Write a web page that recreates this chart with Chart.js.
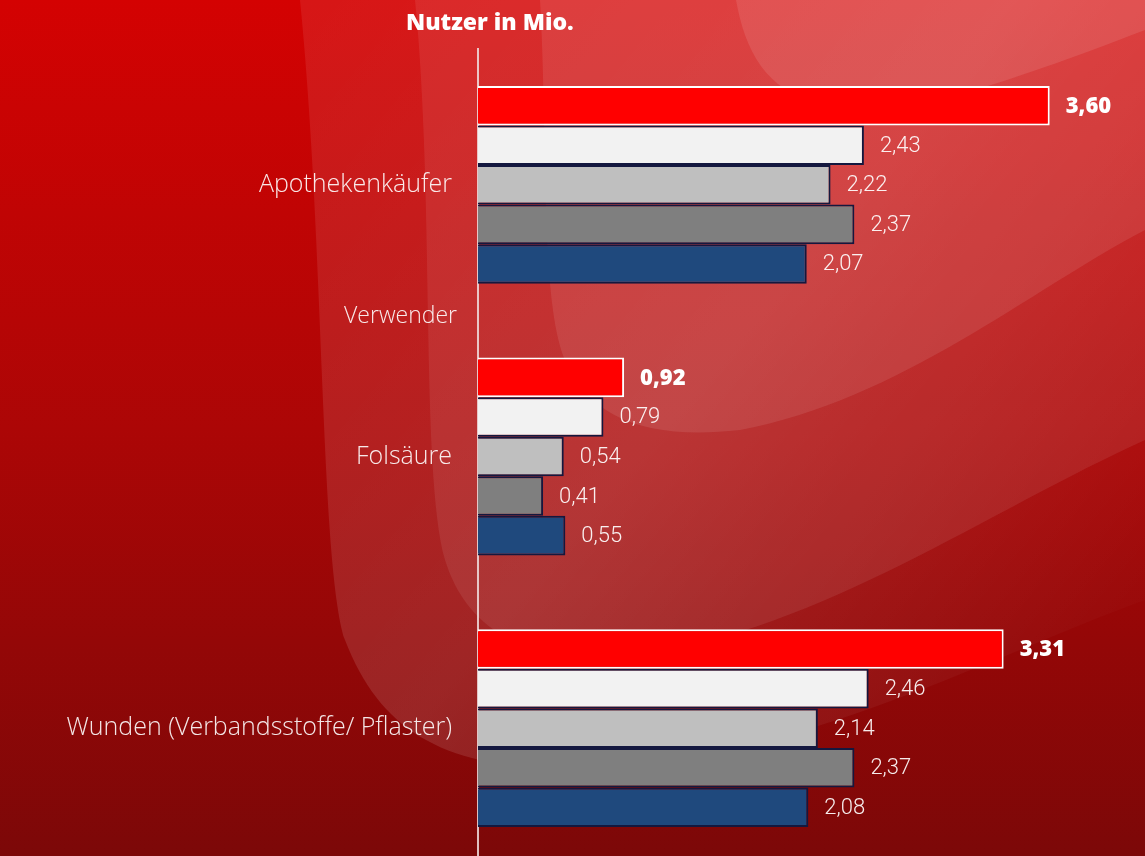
<!DOCTYPE html>
<html>
<head>
<style>
    html, body { margin:0; padding:0; overflow:hidden; width:1145px; height:856px; background:#a00606; }
    canvas { position:absolute; left:0; top:0; }
    .title { position:absolute; left:406px; top:5px; font-family:"Open Sans", sans-serif; font-weight:800; font-size:23px; color:#fff; white-space:nowrap; }
    .note { position:absolute; right:688px; top:298px; font-family:"Open Sans", sans-serif; font-weight:300; font-size:23px; color:rgba(255,255,255,0.9); white-space:nowrap; }
</style>
</head>
<body>
    <canvas width="1145" height="897"></canvas>
    <div class="title">Nutzer in Mio.</div>
    <div class="note">Verwender</div>
    <script src="https://cdn.jsdelivr.net/npm/chart.js@4"></script>
    <script>
        // data
        let categories = ['Apothekenkäufer', 'Folsäure', 'Wunden (Verbandsstoffe/ Pflaster)'];
        let series1 = [3.60, 0.92, 3.31];
        let series2 = [2.43, 0.79, 2.46];
        let series3 = [2.22, 0.54, 2.14];
        let series4 = [2.37, 0.41, 2.37];
        let series5 = [2.07, 0.55, 2.08];

        let fills = ['#ff0000', '#f2f2f2', '#bfbfbf', '#7f7f7f', '#1f497d'];
        let borders = ['#ffffff', '#14183f', '#14183f', '#14183f', '#14183f'];

        function fmt(v){
            return v.toFixed(2).replace('.', ',');
        }

        // background with the light swirl shapes
        let bgPlugin = {
            id: 'bg',
            beforeDraw(chart){
                let ctx = chart.ctx, w = chart.width, h = chart.height;
                ctx.save();
                let g = ctx.createLinearGradient(0, 0, 0, 856);
                g.addColorStop(0, '#d40202');
                g.addColorStop(0.5, '#ac0606');
                g.addColorStop(1, '#7c0808');
                ctx.fillStyle = g;
                ctx.fillRect(0, 0, w, h);

                // overall lighter top right
                let g3 = ctx.createLinearGradient(300, 0, 1145, 700);
                g3.addColorStop(0, 'rgba(255,255,255,0.08)');
                g3.addColorStop(0.5, 'rgba(255,255,255,0.12)');
                g3.addColorStop(1, 'rgba(255,255,255,0.0)');

                ctx.fillStyle = g3;
                ctx.beginPath();
                ctx.moveTo(300, 0);
                ctx.bezierCurveTo(325, 250, 320, 560, 345, 640);
                ctx.bezierCurveTo(380, 730, 440, 765, 560, 770);
                ctx.bezierCurveTo(780, 770, 980, 660, 1145, 600);
                ctx.lineTo(1145, 0);
                ctx.closePath();
                ctx.fill();

                ctx.fillStyle = 'rgba(255,255,255,0.08)';
                ctx.beginPath();
                ctx.moveTo(415, 0);
                ctx.bezierCurveTo(435, 200, 420, 470, 445, 560);
                ctx.bezierCurveTo(470, 640, 540, 665, 640, 655);
                ctx.bezierCurveTo(820, 630, 990, 510, 1145, 440);
                ctx.lineTo(1145, 0);
                ctx.closePath();
                ctx.fill();

                ctx.fillStyle = 'rgba(255,255,255,0.09)';
                ctx.beginPath();
                ctx.moveTo(540, 0);
                ctx.bezierCurveTo(548, 140, 540, 300, 565, 360);
                ctx.bezierCurveTo(590, 420, 650, 440, 740, 430);
                ctx.bezierCurveTo(900, 400, 1030, 290, 1145, 230);
                ctx.lineTo(1145, 0);
                ctx.closePath();
                ctx.fill();

                ctx.fillStyle = 'rgba(255,255,255,0.10)';
                ctx.beginPath();
                ctx.moveTo(736, 0);
                ctx.bezierCurveTo(745, 50, 765, 90, 820, 105);
                ctx.bezierCurveTo(880, 120, 950, 105, 1145, 30);
                ctx.lineTo(1145, 0);
                ctx.closePath();
                ctx.fill();
                ctx.restore();
            }
        };

        let valuePlugin = {
            id: 'values',
            afterDatasetsDraw(chart){
                let ctx = chart.ctx;
                ctx.save();
                ctx.textBaseline = 'middle';
                ctx.textAlign = 'left';
                chart.data.datasets.forEach((ds, i) => {
                    chart.getDatasetMeta(i).data.forEach((bar, j) => {
                        ctx.font = i === 0 ? '800 22px "Open Sans"' : '300 22px Roboto';
                        ctx.fillStyle = i === 0 ? '#ffffff' : 'rgba(255,255,255,0.92)';
                        ctx.fillText(fmt(ds.data[j]), bar.x + 16, bar.y + 1);
                    });
                });
                ctx.restore();
            }
        };

        let allSeries = [series1, series2, series3, series4, series5];
        let canvas = document.querySelector('canvas');
        let chart = new Chart(canvas.getContext('2d'), {
            type: 'bar',
            data: {
                labels: categories,
                datasets: allSeries.map((s, i) => ({
                    label: 'Reihe ' + (i + 1),
                    data: s,
                    backgroundColor: fills[i],
                    borderColor: borders[i],
                    borderWidth: 2,
                    borderSkipped: 'left',
                    barPercentage: 1,
                    categoryPercentage: 0.728
                }))
            },
            options: {
                indexAxis: 'y',
                responsive: false,
                animation: false,
                devicePixelRatio: 1,
                layout: { padding: { top: 49, bottom: 15, left: 0, right: 0 } },
                plugins: {
                    legend: { display: false },
                    tooltip: { enabled: false }
                },
                scales: {
                    x: {
                        display: false,
                        min: 0,
                        max: 4.2
                    },
                    y: {
                        grid: { display: false },
                        border: { display: true, color: 'rgba(240,225,225,0.85)', width: 2 },
                        ticks: {
                            color: 'rgba(255,255,255,0.9)',
                            padding: 18,
                            font: { family: '"Open Sans"', weight: '300', size: 25 }
                        },
                        afterFit(scale){ scale.width = 478; }
                    }
                }
            },
            plugins: [bgPlugin, valuePlugin]
        });
    </script>
</body>
</html>
